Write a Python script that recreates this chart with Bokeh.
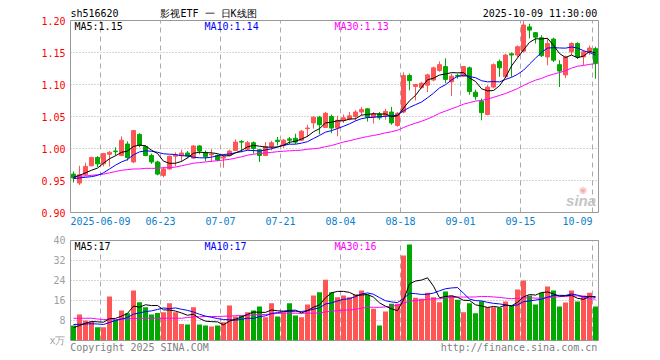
import numpy as np
import pandas as pd
from bokeh.plotting import figure
from bokeh.models import (Label, FixedTicker, ColumnDataSource, Range1d, PrintfTickFormatter,
                          LinearAxis)
from bokeh.layouts import column
from bokeh.embed import file_html
from bokeh.resources import INLINE

# ---------------- data ----------------
opens = [0.960, 0.946, 0.959, 0.973, 0.986, 0.976, 0.991, 0.996, 0.989, 1.007,
         0.979, 1.022, 1.003, 0.989, 0.979, 0.958, 0.968, 0.988, 0.989, 0.993,
         0.985, 1.004, 0.993, 0.990, 0.989, 0.985, 0.989, 0.997, 1.011, 0.999,
         1.009, 0.998, 0.989, 1.003, 1.013, 1.005, 1.015, 1.016, 1.013, 1.031,
         1.040, 1.049, 1.033, 1.050, 1.032, 1.044, 1.046, 1.050, 1.057, 1.062,
         1.049, 1.054, 1.052, 1.057, 1.036, 1.057, 1.114, 1.097, 1.095, 1.099,
         1.107, 1.122, 1.128, 1.104, 1.114, 1.113, 1.126, 1.088, 1.074, 1.053,
         1.096, 1.136, 1.112, 1.148, 1.146, 1.152, 1.190, 1.181, 1.173, 1.143,
         1.171, 1.131, 1.115, 1.151, 1.164, 1.143, 1.151, 1.156]
highs = [0.964, 0.973, 0.978, 0.987, 0.988, 0.993, 0.996, 1.002, 1.019, 1.011,
         1.029, 1.024, 1.005, 0.992, 0.981, 0.971, 0.989, 0.994, 0.998, 0.996,
         1.005, 1.005, 0.997, 0.999, 0.991, 0.991, 0.998, 1.014, 1.013, 1.012,
         1.011, 0.999, 1.010, 1.012, 1.018, 1.015, 1.018, 1.023, 1.029, 1.037,
         1.050, 1.051, 1.057, 1.053, 1.051, 1.053, 1.057, 1.060, 1.065, 1.063,
         1.057, 1.057, 1.062, 1.065, 1.057, 1.119, 1.117, 1.101, 1.104, 1.117,
         1.128, 1.136, 1.141, 1.117, 1.117, 1.129, 1.128, 1.092, 1.078, 1.099,
         1.133, 1.139, 1.148, 1.150, 1.161, 1.199, 1.195, 1.182, 1.177, 1.172,
         1.173, 1.138, 1.145, 1.166, 1.166, 1.153, 1.161, 1.159]
lows = [0.947, 0.943, 0.957, 0.972, 0.971, 0.972, 0.972, 0.989, 0.988, 0.981,
        0.977, 1.002, 0.988, 0.976, 0.958, 0.955, 0.967, 0.972, 0.979, 0.985,
        0.984, 0.991, 0.980, 0.979, 0.980, 0.970, 0.988, 0.996, 0.994, 0.997,
        0.992, 0.979, 0.988, 0.997, 1.005, 1.001, 1.007, 1.007, 1.012, 1.018,
        1.031, 1.022, 1.032, 1.024, 1.019, 1.040, 1.044, 1.044, 1.052, 1.042,
        1.039, 1.045, 1.045, 1.037, 1.034, 1.055, 1.091, 1.075, 1.094, 1.088,
        1.105, 1.120, 1.102, 1.082, 1.109, 1.112, 1.084, 1.076, 1.044, 1.052,
        1.094, 1.112, 1.110, 1.112, 1.143, 1.150, 1.172, 1.164, 1.143, 1.130,
        1.135, 1.096, 1.110, 1.146, 1.140, 1.130, 1.146, 1.109]
closes = [0.954, 0.959, 0.972, 0.986, 0.976, 0.992, 0.994, 0.995, 1.013, 0.986,
          1.028, 1.005, 0.989, 0.979, 0.960, 0.968, 0.988, 0.990, 0.993, 0.988,
          1.004, 0.996, 0.987, 0.991, 0.982, 0.987, 0.996, 1.010, 1.010, 1.009,
          1.000, 0.989, 1.003, 1.009, 1.011, 1.013, 1.013, 1.010, 1.027, 1.032,
          1.049, 1.037, 1.055, 1.032, 1.044, 1.048, 1.051, 1.057, 1.061, 1.049,
          1.054, 1.048, 1.058, 1.040, 1.055, 1.114, 1.106, 1.100, 1.102, 1.115,
          1.126, 1.131, 1.108, 1.113, 1.113, 1.128, 1.089, 1.081, 1.056, 1.096,
          1.131, 1.126, 1.146, 1.146, 1.159, 1.193, 1.185, 1.174, 1.145, 1.164,
          1.138, 1.121, 1.143, 1.164, 1.143, 1.151, 1.157, 1.133]
volumes = [6.0, 10.4, 8.0, 7.6, 5.3, 5.3, 17.6, 8.4, 12.0, 10.9,
           20.0, 15.3, 13.3, 10.4, 11.0, 11.3, 14.9, 11.3, 6.6, 6.4,
           13.3, 6.4, 6.0, 5.6, 6.0, 7.3, 14.0, 9.6, 10.0, 11.3,
           12.0, 13.6, 9.3, 14.9, 9.6, 11.3, 14.9, 10.0, 9.3, 14.4,
           18.0, 19.3, 24.3, 19.3, 17.3, 18.0, 17.3, 18.4, 20.0, 18.3,
           12.7, 6.0, 11.6, 14.7, 14.7, 34.0, 38.4, 17.1, 16.7, 19.1,
           17.3, 15.3, 19.6, 18.0, 16.3, 11.3, 14.9, 10.9, 15.7, 13.3,
           13.3, 13.1, 15.6, 14.0, 20.4, 24.0, 18.0, 14.4, 19.1, 21.6,
           20.0, 13.6, 15.2, 20.0, 15.6, 18.0, 19.1, 13.6]

# moving averages at the left edge (their windows reach before the visible range)
ma5_head = [0.955, 0.958, 0.962, 0.966]
ma10_head = [0.953, 0.954, 0.955, 0.956, 0.958, 0.962, 0.968, 0.974, 0.979]
ma30_head = [0.956, 0.957, 0.957, 0.958, 0.959, 0.960, 0.962, 0.964, 0.966, 0.967,
             0.968, 0.968, 0.969, 0.969, 0.969, 0.970, 0.970, 0.971, 0.973, 0.975,
             0.977, 0.978, 0.979, 0.980, 0.981, 0.982, 0.983, 0.985, 0.987]
vma5_head = [5.1, 6.0, 6.9, 7.6]
vma10_head = [6.4, 6.5, 6.6, 6.7, 6.6, 6.4, 7.2, 8.0, 8.6]
vma30_head = [8.9, 8.9, 8.9, 8.9, 8.6, 8.4, 8.3, 8.3, 8.5, 8.7,
              8.8, 8.9, 8.9, 8.9, 8.9, 8.9, 8.9, 8.9, 8.9, 9.2,
              9.4, 9.5, 9.6, 9.6, 9.6, 9.7, 9.8, 9.9, 10.0]

date_idx = [5, 15, 25, 35, 45, 55, 65, 75, 87]
date_labels = ["2025-06-09", "06-23", "07-07", "07-21", "08-04", "08-18", "09-01", "09-15", "10-09"]
price_ticks = [0.90, 0.95, 1.00, 1.05, 1.10, 1.15, 1.20]
vol_ticks = [0, 8, 16, 24, 32, 40]
vol_unit = "x万"

title_code = "sh516620"
title_main = "影视ETF 一 日K线图"
title_time = "2025-10-09 11:30:00"
price_ma_texts = ["MA5:1.15", "MA10:1.14", "MA30:1.13"]
vol_ma_texts = ["MA5:17", "MA10:17", "MA30:16"]
footer_left = "Copyright 2025 SINA.COM"
footer_right = "http://finance.sina.com.cn"

# ---------------- derived ----------------
n = len(closes)
idx = np.arange(n)
cs = pd.Series(closes)
vs = pd.Series(volumes)


def with_head(series, w, head):
    r = series.rolling(w).mean().to_numpy()
    return np.concatenate([np.array(head), r[len(head):]])


ma5 = with_head(cs, 5, ma5_head)
ma10 = with_head(cs, 10, ma10_head)
ma30 = with_head(cs, 30, ma30_head)
vma5 = with_head(vs, 5, vma5_head)
vma10 = with_head(vs, 10, vma10_head)
vma30 = with_head(vs, 30, vma30_head)

RED = "#ff5555"
GREEN = "#00a800"
colors = [RED if c >= o else GREEN for o, c in zip(opens, closes)]
src = ColumnDataSource(dict(
    x=idx, o=opens, h=highs, l=lows, c=closes,
    top=np.maximum(opens, closes), bot=np.minimum(opens, closes),
    color=colors, vol=volumes))

MONO = "DejaVu Sans Mono"
GRID = "#aaaaaa"
FRAME = "#999999"
grid_x = [k - 0.5 for k in date_idx]


def plain_axis(ax, color, standoff):
    ax.axis_line_color = None
    ax.major_tick_line_color = None
    ax.minor_tick_line_color = None
    ax.major_tick_out = 0
    ax.major_tick_in = 0
    ax.minor_tick_out = 0
    ax.minor_tick_in = 0
    ax.major_label_text_color = color
    ax.major_label_text_font = MONO
    ax.major_label_text_font_size = "10px"
    ax.major_label_standoff = standoff


# ---------------- price panel ----------------
p = figure(width=660, height=232, x_range=Range1d(-0.5, n - 0.5), y_range=Range1d(0.90, 1.20),
           output_backend="svg", toolbar_location=None,
           min_border_left=70, min_border_right=62, min_border_top=20, min_border_bottom=20)
p.xgrid.ticker = FixedTicker(ticks=grid_x)
p.xgrid.grid_line_color = GRID
p.xgrid.grid_line_dash = "5 4"
p.ygrid.grid_line_color = GRID
p.ygrid.grid_line_dash = "1 2"
p.outline_line_color = FRAME
p.outline_line_width = 1

p.yaxis.ticker = FixedTicker(ticks=price_ticks)
p.yaxis.formatter = PrintfTickFormatter(format="%.2f")
plain_axis(p.yaxis[0], "#ff0000", 5)

# date labels on the bottom axis (first/last shifted like the reference)
date_pos = [4.5] + grid_x[1:-1] + [84.0]
p.xaxis.ticker = FixedTicker(ticks=date_pos)
p.xaxis.major_label_overrides = {pos: t for pos, t in zip(date_pos, date_labels)}
plain_axis(p.xaxis[0], "#0a80cc", 4)

# header texts on a top axis
head_pos = [3.5, 22.5, 77.75]
top_ax = LinearAxis(ticker=FixedTicker(ticks=head_pos),
                    major_label_overrides={pos: t for pos, t in
                                           zip(head_pos, [title_code, title_main, title_time])})
plain_axis(top_ax, "#000000", 2)
p.add_layout(top_ax, "above")

p.segment(x0="x", y0="l", x1="x", y1="h", line_color="color", line_width=1, source=src)
p.vbar(x="x", width=4 / 6, top="top", bottom="bot", fill_color="color", line_color="color",
       line_width=1, source=src)
p.line(idx, ma30, line_color="#ff00ff", line_width=1)
p.line(idx, ma10, line_color="#0000ff", line_width=1)
p.line(idx, ma5, line_color="#000000", line_width=1)

y_ma = 0.90 + (212 - 26) * 0.3 / 192
for xx, t, col in zip([0.17, 21.83, 43.5], price_ma_texts, ["#000000", "#0000ff", "#ff00ff"]):
    p.add_layout(Label(x=xx, y=y_ma, text=t, text_font=MONO, text_font_size="10px",
                       text_baseline="middle", text_align="left", text_color=col))

# faint sina watermark
p.add_layout(Label(x=84.9, y=0.90 + (212 - 189) * 0.3 / 192, text="◉", text_font="DejaVu Sans",
                   text_font_size="9px", text_baseline="middle", text_align="center",
                   text_color="#f2b0b0"))
p.add_layout(Label(x=84.6, y=0.90 + (212 - 200) * 0.3 / 192, text="sina", text_font="Liberation Sans",
                   text_font_size="15px", text_font_style="bold italic", text_baseline="middle",
                   text_align="center", text_color="#c4c4c4"))

# ---------------- volume panel ----------------
p2 = figure(width=660, height=128, x_range=p.x_range, y_range=Range1d(0, 40),
            output_backend="svg", toolbar_location=None,
            min_border_left=70, min_border_right=62, min_border_top=8, min_border_bottom=20)
p2.xgrid.ticker = FixedTicker(ticks=grid_x)
p2.xgrid.grid_line_color = GRID
p2.xgrid.grid_line_dash = "5 4"
p2.ygrid.grid_line_color = GRID
p2.ygrid.grid_line_dash = "1 2"
p2.outline_line_color = FRAME
p2.outline_line_width = 1

p2.yaxis.ticker = FixedTicker(ticks=vol_ticks)
p2.yaxis.major_label_overrides = {0: vol_unit}
plain_axis(p2.yaxis[0], "#a0a0a0", 5)

foot_pos = [11.0, 74.25]
p2.xaxis.ticker = FixedTicker(ticks=foot_pos)
p2.xaxis.major_label_overrides = {foot_pos[0]: footer_left, foot_pos[1]: footer_right}
plain_axis(p2.xaxis[0], "#808080", 1)

p2.vbar(x="x", width=5 / 6, top="vol", bottom=0, fill_color="color", line_color=None, source=src)
p2.line(idx, vma30, line_color="#ff00ff", line_width=1)
p2.line(idx, vma10, line_color="#0000ff", line_width=1)
p2.line(idx, vma5, line_color="#000000", line_width=1)

y_vma = (340 - 246) * 0.4
for xx, t, col in zip([0.17, 21.83, 43.5], vol_ma_texts, ["#000000", "#0000ff", "#ff00ff"]):
    p2.add_layout(Label(x=xx, y=y_vma, text=t, text_font=MONO, text_font_size="10px",
                        text_baseline="middle", text_align="left", text_color=col))

layout = column(p, p2)
open("out.html", "w").write(file_html(layout, INLINE))
